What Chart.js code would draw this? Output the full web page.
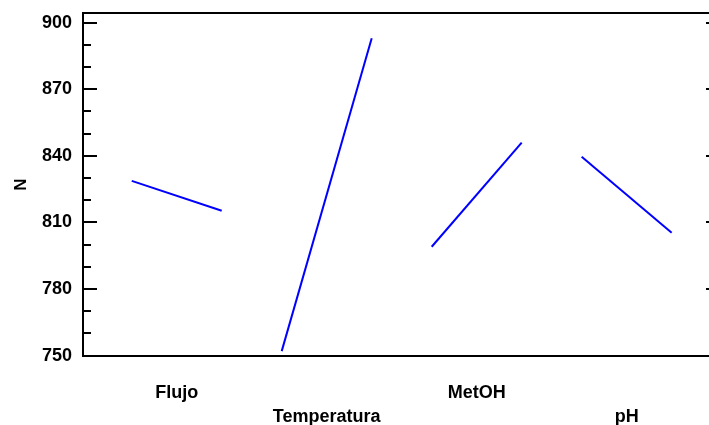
<!DOCTYPE html>
<html>
<head>
<meta charset="utf-8">
<script src="https://cdn.jsdelivr.net/npm/chart.js@4/dist/chart.umd.min.js"></script>
<style>
html,body{margin:0;padding:0;background:#fff;}
#wrap{width:709px;height:425px;position:relative;}
</style>
</head>
<body>
<div id="wrap"><canvas id="c" width="709" height="425"></canvas></div>
<script>
// Factors (x-axis categories)
const factors = ['Flujo', 'Temperatura', 'MetOH', 'pH'];
// Response N at the low and high level of each factor
const lowValues  = [828.7, 752.0, 799.0, 839.5];
const highValues = [815.2, 892.9, 845.9, 805.3];
// Y axis labelled ticks and minor tick step
const yTickLabels = [750, 780, 810, 840, 870, 900];
const yMinorStep = 10;

const FONT = "'Liberation Sans', Arial, sans-serif";
const SEG = 0.6; // segment width in x units

const datasets = factors.map((f, i) => ({
  label: f,
  data: [{x: i, y: lowValues[i]}, {x: i + SEG, y: highValues[i]}],
  showLine: true,
  borderColor: '#0000ff',
  borderWidth: 2,
  pointRadius: 0,
  fill: false
}));

const framePlugin = {
  id: 'frame',
  afterDraw(chart) {
    const {ctx, chartArea: a, scales: {y}} = chart;
    ctx.save();
    ctx.strokeStyle = '#000';
    ctx.lineWidth = 2;
    ctx.beginPath();
    ctx.moveTo(a.left - 1, a.top);
    ctx.lineTo(a.right, a.top);
    ctx.stroke();
    const lo = yTickLabels[0], hi = yTickLabels[yTickLabels.length - 1];
    for (let v = lo; v <= hi; v += yMinorStep) {
      const py = Math.round(y.getPixelForValue(v));
      const major = yTickLabels.includes(v);
      ctx.beginPath();
      ctx.moveTo(a.left, py);
      ctx.lineTo(a.left + (major ? 14 : 8), py);
      ctx.stroke();
      if (major) {
        ctx.beginPath();
        ctx.moveTo(a.right - 3, py);
        ctx.lineTo(a.right, py);
        ctx.stroke();
      }
    }
    ctx.restore();
  }
};

new Chart(document.getElementById('c'), {
  type: 'scatter',
  data: {datasets},
  plugins: [framePlugin],
  options: {
    responsive: false,
    animation: false,
    layout: {padding: {top: 13, right: 0, bottom: 0, left: 0}},
    plugins: {legend: {display: false}, tooltip: {enabled: false}},
    scales: {
      x: {
        type: 'linear',
        min: -0.325,
        max: 3.849,
        afterFit(s) { s.height = 69; s.paddingLeft = 0; s.paddingRight = 0; },
        afterBuildTicks(s) { s.ticks = factors.map((f, i) => ({value: i + SEG / 2})); },
        grid: {display: false, drawTicks: false},
        border: {display: true, color: '#000', width: 2},
        ticks: {
          autoSkip: false,
          maxRotation: 0,
          minRotation: 0,
          padding: 25,
          color: '#000',
          font: {family: FONT, size: 18, weight: 'bold', lineHeight: 1.33},
          callback: (v, idx) => idx % 2 === 0 ? [factors[idx], ''] : ['', factors[idx]]
        }
      },
      y: {
        type: 'linear',
        min: 749.8,
        max: 904.3,
        afterFit(s) { s.width = 83; s.paddingTop = 0; s.paddingBottom = 0; },
        afterBuildTicks(s) {
          const t = [];
          const lo = yTickLabels[0], hi = yTickLabels[yTickLabels.length - 1];
          for (let v = lo; v <= hi; v += yMinorStep) t.push({value: v});
          s.ticks = t;
        },
        grid: {display: false, drawTicks: false},
        border: {display: true, color: '#000', width: 2},
        title: {
          display: true,
          text: 'N',
          color: '#000',
          padding: {top: 11, bottom: 0},
          font: {family: FONT, size: 17, weight: 'bold'}
        },
        ticks: {
          padding: 11,
          color: '#000',
          autoSkip: false,
          font: {family: FONT, size: 18, weight: 'bold'},
          callback: (v) => yTickLabels.includes(v) ? String(v) : ''
        }
      }
    }
  }
});
</script>
</body>
</html>
